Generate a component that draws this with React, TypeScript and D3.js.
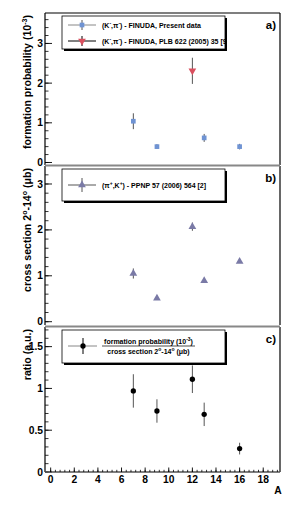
import { range, scaleLinear, symbol, symbolSquare, symbolTriangle, symbolCircle } from "d3";

const WIDTH = 295;
const HEIGHT = 506;
const LEFT = 45;
const RIGHT = 280;
const FONT = "'Liberation Sans', Arial, Helvetica, sans-serif";

// panel a: formation probability (10^-3)
const finudaA = [7, 9, 13, 16];
const finudaProb = [1.04, 0.4, 0.62, 0.4];
const finudaErr = [0.2, 0.06, 0.1, 0.07];
const plbA = [12];
const plbProb = [2.31];
const plbErr = [0.33];

// panel b: cross section 2-14 deg (mub)
const crossA = [7, 9, 12, 13, 16];
const crossVal = [1.05, 0.51, 2.07, 0.89, 1.31];
const crossErr = [0.11, 0, 0.09, 0, 0];

// panel c: ratio
const ratioA = [7, 9, 12, 13, 16];
const ratioVal = [0.97, 0.73, 1.11, 0.69, 0.28];
const ratioErr = [0.2, 0.14, 0.165, 0.14, 0.07];

const xTicks = [0, 2, 4, 6, 8, 10, 12, 14, 16, 18];
const aTicks = [0, 1, 2, 3];
const bTicks = [0, 1, 2, 3];
const cTicks = [0, 0.5, 1, 1.5];
const cTickLabels = ["0", "0.5", "1", "1.5"];

const x = scaleLinear().domain([-0.48, 19.42]).range([LEFT, RIGHT]);

const TICK_FONT = 10.3;
const TITLE_FONT = 10.6;

type Panel = {
  top: number;
  bottom: number;
  domain: [number, number];
  ticks: number[];
  labels: string[];
  step: number;
  title: any;
  tag: string;
};

function YAxis({ p, y }: { p: Panel; y: (v: number) => number }) {
  const minors = range(p.domain[0] < 0 ? 0 : p.domain[0], p.domain[1], p.step / 5).filter(
    (v) => y(v) >= p.top && y(v) <= p.bottom
  );
  return (
    <g>
      <line x1={LEFT} x2={LEFT} y1={p.top} y2={p.bottom} stroke="#000" strokeWidth={1.2} />
      <line x1={RIGHT} x2={RIGHT} y1={p.top} y2={p.bottom} stroke="#000" strokeWidth={1.2} />
      {minors.map((v, i) => (
        <line key={"m" + i} x1={LEFT} x2={LEFT + 3.5} y1={y(v)} y2={y(v)} stroke="#000" strokeWidth={0.8} />
      ))}
      {p.ticks.map((v, i) => (
        <g key={i}>
          <line x1={LEFT} x2={LEFT + 7} y1={y(v)} y2={y(v)} stroke="#000" strokeWidth={0.9} />
          <text
            x={LEFT - 2}
            y={y(v) + 3.6}
            textAnchor="end"
            fontSize={TICK_FONT}
            fontWeight="bold"
            fontFamily={FONT}
          >
            {p.labels[i]}
          </text>
        </g>
      ))}
      <text
        transform={`translate(31,${p.top + 2}) rotate(-90)`}
        textAnchor="end"
        fontSize={TITLE_FONT}
        fontWeight="bold"
        fontFamily={FONT}
      >
        {p.title}
      </text>
      <text x={276} y={p.top + 16} textAnchor="end" fontSize={11.5} fontWeight="bold" fontFamily={FONT}>
        {p.tag}
      </text>
    </g>
  );
}

function ErrPoint({
  cx,
  cy,
  lo,
  hi,
  d,
  fill,
  bar,
  rot = 0,
}: {
  cx: number;
  cy: number;
  lo: number;
  hi: number;
  d: string;
  fill: string;
  bar: string;
  rot?: number;
}) {
  return (
    <g>
      {Math.abs(hi - lo) > 0 && <line x1={cx} x2={cx} y1={lo} y2={hi} stroke={bar} strokeWidth={1} />}
      <path d={d} transform={`translate(${cx},${cy}) rotate(${rot})`} fill={fill} />
    </g>
  );
}

function LegendBox({ top, bottom, id, children }: { top: number; bottom: number; id: string; children: any }) {
  const l = 62;
  const r = 225;
  return (
    <g>
      <defs>
        <clipPath id={id}>
          <rect x={l} y={top} width={r - l} height={bottom - top} />
        </clipPath>
      </defs>
      <rect x={l + 2} y={top + 2} width={r - l} height={bottom - top} fill="#000" />
      <rect x={l} y={top} width={r - l} height={bottom - top} fill="#fff" stroke="#000" strokeWidth={0.8} />
      <g clipPath={`url(#${id})`}>{children}</g>
    </g>
  );
}

export default function App() {
  const sup = 7;
  const pa: Panel = {
    top: 13,
    bottom: 165,
    domain: [-0.063, 3.767],
    ticks: aTicks,
    labels: aTicks.map(String),
    step: 1,
    title: (
      <>
        formation probability (10<tspan dy={-4} fontSize={sup}>-3</tspan>
        <tspan dy={4}>)</tspan>
      </>
    ),
    tag: "a)",
  };
  const pb: Panel = {
    top: 166,
    bottom: 325,
    domain: [-0.072, 3.392],
    ticks: bTicks,
    labels: bTicks.map(String),
    step: 1,
    title: (
      <>
        cross section 2<tspan dy={-4} fontSize={sup}>o</tspan>
        <tspan dy={4}>-14</tspan>
        <tspan dy={-4} fontSize={sup}>o</tspan>
        <tspan dy={4}> (μb)</tspan>
      </>
    ),
    tag: "b)",
  };
  const pc: Panel = {
    top: 327,
    bottom: 472,
    domain: [0, 1.735],
    ticks: cTicks,
    labels: cTickLabels,
    step: 0.5,
    title: "ratio (a.u.)",
    tag: "c)",
  };
  const ya = scaleLinear().domain(pa.domain).range([pa.bottom, pa.top]);
  const yb = scaleLinear().domain(pb.domain).range([pb.bottom, pb.top]);
  const yc = scaleLinear().domain(pc.domain).range([pc.bottom, pc.top]);

  const sq = symbol(symbolSquare, 22)() ?? "";
  const tri = symbol(symbolTriangle, 26)() ?? "";
  const circ = symbol(symbolCircle, 22)() ?? "";

  const blue = "#6f93d3";
  const red = "#d9505f";
  const slate = "#7a7aa6";

  const xMinors = range(0, 19.42, 0.4);

  const legendText = { fontSize: 7, fontWeight: "bold" as const, fontFamily: FONT };
  const supSize = 5;

  return (
    <svg width={WIDTH} height={HEIGHT} style={{ display: "block", position: "absolute", left: 0, top: 0 }}>
      <rect width={WIDTH} height={HEIGHT} fill="#fff" />
      {/* frames */}
      <line x1={LEFT} x2={RIGHT} y1={13} y2={13} stroke="#000" strokeWidth={1.2} />
      <YAxis p={pa} y={ya} />
      <YAxis p={pb} y={yb} />
      <YAxis p={pc} y={yc} />
      <line x1={LEFT} x2={RIGHT} y1={165.5} y2={165.5} stroke="#888" strokeWidth={2} />
      <line x1={LEFT} x2={RIGHT} y1={326.5} y2={326.5} stroke="#888" strokeWidth={2} />

      {/* x axis */}
      <line x1={LEFT} x2={RIGHT} y1={pc.bottom} y2={pc.bottom} stroke="#555" strokeWidth={1.3} />
      {xMinors.map((v, i) => (
        <line key={i} x1={x(v)} x2={x(v)} y1={pc.bottom} y2={pc.bottom - 2.2} stroke="#000" strokeWidth={0.8} />
      ))}
      {xTicks.map((v) => (
        <g key={v}>
          <line x1={x(v)} x2={x(v)} y1={pc.bottom} y2={pc.bottom - 4.5} stroke="#000" strokeWidth={0.9} />
          <text
            x={x(v)}
            y={pc.bottom + 10.5}
            textAnchor="middle"
            fontSize={TICK_FONT}
            fontWeight="bold"
            fontFamily={FONT}
          >
            {v}
          </text>
        </g>
      ))}
      <text x={278} y={494} textAnchor="middle" fontSize={TICK_FONT} fontWeight="bold" fontFamily={FONT}>
        A
      </text>

      {/* panel a */}
      <LegendBox top={16} bottom={49} id="lga">
        <line x1={68} x2={96} y1={25} y2={25} stroke="#888" strokeWidth={1} />
        <line x1={82} x2={82} y1={20} y2={30} stroke="#555" strokeWidth={1} />
        <path d={sq} transform="translate(82,25)" fill={blue} />
        <text x={102} y={27.5} {...legendText}>
          (K<tspan dy={-2.5} fontSize={supSize}>-</tspan>
          <tspan dy={2.5}>,π</tspan>
          <tspan dy={-2.5} fontSize={supSize}>-</tspan>
          <tspan dy={2.5}>) - FINUDA, Present data</tspan>
        </text>
        <line x1={68} x2={96} y1={41} y2={41} stroke="#000" strokeWidth={1} />
        <line x1={82} x2={82} y1={36} y2={46} stroke="#000" strokeWidth={1} />
        <path d={tri} transform="translate(82,41) rotate(180)" fill={red} />
        <text x={102} y={43.5} {...legendText}>
          (K<tspan dy={-2.5} fontSize={supSize}>-</tspan>
          <tspan dy={2.5}>,π</tspan>
          <tspan dy={-2.5} fontSize={supSize}>-</tspan>
          <tspan dy={2.5}>) - FINUDA, PLB 622 (2005) 35 [9]</tspan>
        </text>
      </LegendBox>
      {finudaA.map((a, i) => (
        <ErrPoint
          key={a}
          cx={x(a)}
          cy={ya(finudaProb[i])}
          lo={ya(finudaProb[i] - finudaErr[i])}
          hi={ya(finudaProb[i] + finudaErr[i])}
          d={sq}
          fill={blue}
          bar="#555"
        />
      ))}
      {plbA.map((a, i) => (
        <ErrPoint
          key={a}
          cx={x(a)}
          cy={ya(plbProb[i])}
          lo={ya(plbProb[i] - plbErr[i])}
          hi={ya(plbProb[i] + plbErr[i])}
          d={tri}
          fill={red}
          bar="#555"
          rot={180}
        />
      ))}

      {/* panel b */}
      <LegendBox top={169} bottom={201} id="lgb">
        <line x1={68} x2={96} y1={185} y2={185} stroke="#555" strokeWidth={1} />
        <line x1={82} x2={82} y1={178} y2={192} stroke="#555" strokeWidth={1} />
        <path d={tri} transform="translate(82,185)" fill={slate} />
        <text x={102} y={187.5} {...legendText}>
          (π<tspan dy={-2.5} fontSize={supSize}>+</tspan>
          <tspan dy={2.5}>,K</tspan>
          <tspan dy={-2.5} fontSize={supSize}>+</tspan>
          <tspan dy={2.5}>) - PPNP 57 (2006) 564 [2]</tspan>
        </text>
      </LegendBox>
      {crossA.map((a, i) => (
        <ErrPoint
          key={a}
          cx={x(a)}
          cy={yb(crossVal[i])}
          lo={yb(crossVal[i] - crossErr[i])}
          hi={yb(crossVal[i] + crossErr[i])}
          d={tri}
          fill={slate}
          bar="#555"
        />
      ))}

      {/* panel c */}
      <LegendBox top={330} bottom={363} id="lgc">
        <line x1={68} x2={97} y1={346} y2={346} stroke="#888" strokeWidth={1} />
        <line x1={83} x2={83} y1={338} y2={354} stroke="#000" strokeWidth={1} />
        <path d={circ} transform="translate(83,346)" fill="#000" />
        <text x={148.5} y={343.6} textAnchor="middle" {...legendText}>
          formation probability (10<tspan dy={-2.5} fontSize={supSize}>-3</tspan>
          <tspan dy={2.5}>)</tspan>
        </text>
        <line x1={102} x2={195} y1={346} y2={346} stroke="#000" strokeWidth={0.7} />
        <text x={148.5} y={353.5} textAnchor="middle" {...legendText}>
          cross section 2<tspan dy={-2.5} fontSize={supSize}>o</tspan>
          <tspan dy={2.5}>-14</tspan>
          <tspan dy={-2.5} fontSize={supSize}>o</tspan>
          <tspan dy={2.5}> (μb)</tspan>
        </text>
      </LegendBox>
      {ratioA.map((a, i) => (
        <ErrPoint
          key={a}
          cx={x(a)}
          cy={yc(ratioVal[i])}
          lo={yc(ratioVal[i] - ratioErr[i])}
          hi={yc(ratioVal[i] + ratioErr[i])}
          d={circ}
          fill="#000"
          bar="#555"
        />
      ))}
    </svg>
  );
}
